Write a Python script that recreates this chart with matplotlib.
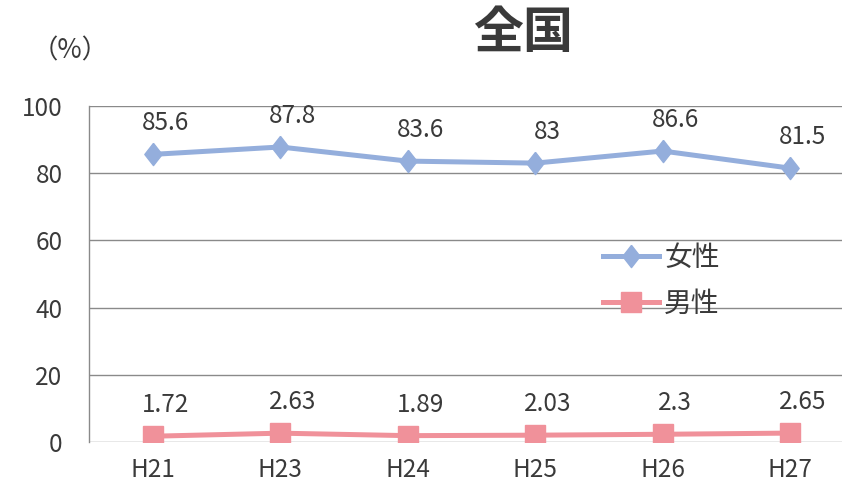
import matplotlib
matplotlib.use("Agg")
import matplotlib.pyplot as plt

plt.rcParams['font.family'] = ['Noto Sans CJK JP', 'DejaVu Sans']

categories = ["H21", "H23", "H24", "H25", "H26", "H27"]
female = [85.6, 87.8, 83.6, 83, 86.6, 81.5]
male = [1.72, 2.63, 1.89, 2.03, 2.3, 2.65]
female_labels = ["85.6", "87.8", "83.6", "83", "86.6", "81.5"]
male_labels = ["1.72", "2.63", "1.89", "2.03", "2.3", "2.65"]
yticks = [0, 20, 40, 60, 80, 100]

fem_color = "#94AEDC"
male_color = "#F0919A"
text_color = "#3a3a3a"

diamond = [(0, 1), (0.78, 0), (0, -1), (-0.78, 0), (0, 1)]

fig = plt.figure(figsize=(8.42, 4.91), dpi=100)
ax = fig.add_axes([89/842, 1 - 442/491, 1 - 89/842, (442 - 106)/491])

x = list(range(len(categories)))
ax.plot(x, female, color=fem_color, lw=3.6, marker=diamond, ms=16,
        markerfacecolor=fem_color, markeredgecolor=fem_color, label="女性", zorder=3)
ax.plot(x, male, color=male_color, lw=3.6, marker="s", ms=14,
        markerfacecolor=male_color, markeredgecolor=male_color, label="男性", zorder=3)

for xi, v, t in zip(x, female, female_labels):
    ax.annotate(t, (xi, v), xytext=(9, 13), textcoords="offset points",
                ha="center", va="bottom", fontsize=17.5, color=text_color)
for xi, v, t in zip(x, male, male_labels):
    ax.annotate(t, (xi, v), xytext=(9, 13), textcoords="offset points",
                ha="center", va="bottom", fontsize=17.5, color=text_color)

ax.set_xlim(-0.5, 5.5 - 12/127.6)
ax.set_ylim(0, 100)
ax.set_yticks(yticks)
ax.set_xticks(x)
ax.set_xticklabels(categories)
ax.tick_params(axis="both", length=0, labelsize=17.5, colors=text_color)
ax.tick_params(axis="x", pad=11)
ax.tick_params(axis="y", pad=19)
ax.grid(axis="y", color="#8a8a8a", lw=1.0)
ax.set_axisbelow(True)
for s in ["top", "right", "bottom"]:
    ax.spines[s].set_visible(False)
ax.spines["left"].set_color("#8a8a8a")
ax.spines["left"].set_linewidth(1.0)

leg = ax.legend(loc="upper left", bbox_to_anchor=((592 - 89) / (842 - 89), (442 - 232) / 336),
                frameon=False, fontsize=20, handlelength=2.0, labelspacing=0.55,
                handletextpad=0.2, borderaxespad=0)
for t in leg.get_texts():
    t.set_color(text_color)

fig.text(523/842, 1 - 33/491, "全国", ha="center", va="center", fontsize=36,
         fontweight="bold", color=text_color)
fig.text(70/842, 1 - 51/491, "（%）", ha="center", va="center", fontsize=19, color=text_color)

fig.savefig("out.png", dpi=100)
